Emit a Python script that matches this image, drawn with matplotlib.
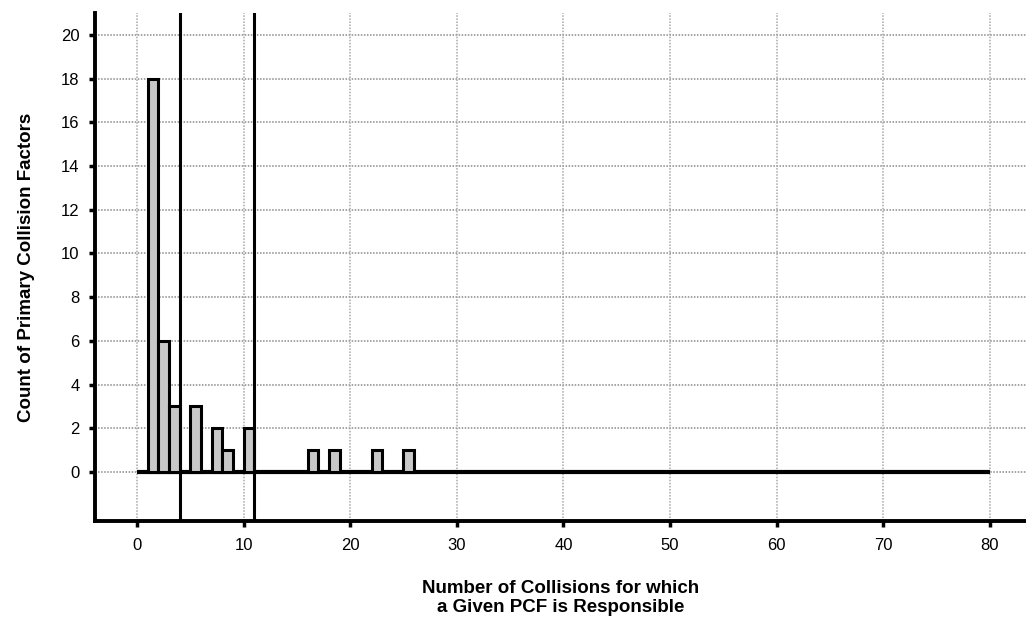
import matplotlib
matplotlib.use("Agg")
import matplotlib.pyplot as plt

# Histogram of how many collisions each primary collision factor (PCF) accounts for
bin_left = [1, 2, 3, 5, 7, 8, 10, 16, 18, 22, 25]
counts = [18, 6, 3, 3, 2, 1, 2, 1, 1, 1, 1]
bin_width = 1
marker_lines = [4, 11]
x_ticks = [0, 10, 20, 30, 40, 50, 60, 70, 80]
y_ticks = [0, 2, 4, 6, 8, 10, 12, 14, 16, 18, 20]
x_label = "Number of Collisions for which\na Given PCF is Responsible"
y_label = "Count of Primary Collision Factors"

plt.rcParams["font.family"] = ["Liberation Sans", "DejaVu Sans"]

fig = plt.figure(figsize=(10.26, 6.2), dpi=100)
ax = fig.add_axes([0.0926, 0.1597, 0.9074, 0.8194])

ax.set_xlim(-3.94, 83.4)
ax.set_ylim(-2.24, 21.0)

# dotted grey grid
for y in y_ticks:
    ax.axhline(y, color="#8a8a8a", lw=1.1, ls=(0, (1, 1)), zorder=1)
for x in x_ticks:
    ax.axvline(x, color="#a8a8a8", lw=1.1, ls=(0, (1, 1)), zorder=1)

# baseline along the data range
ax.plot([x_ticks[0], x_ticks[-1]], [0, 0], color="black", lw=3, zorder=3,
        solid_capstyle="butt")

ax.bar(bin_left, counts, width=bin_width, align="edge", facecolor="#c8c8c8",
       edgecolor="black", linewidth=2.2, zorder=4)

for x in marker_lines:
    ax.axvline(x, color="black", lw=2.2, zorder=5)

ax.set_xticks(x_ticks)
ax.set_yticks(y_ticks)
ax.tick_params(axis="both", direction="out", length=4, width=2.5,
               labelsize=12, color="black")
ax.tick_params(axis="x", pad=8)
ax.tick_params(axis="y", pad=7)

for side in ("top", "right"):
    ax.spines[side].set_visible(False)
for side in ("left", "bottom"):
    ax.spines[side].set_linewidth(2.8)

ax.set_xlabel(x_label, fontsize=13.5, fontweight="bold", labelpad=20,
              linespacing=1.1)
ax.set_ylabel(y_label, fontsize=13.5, fontweight="bold", labelpad=19)

fig.savefig("out.png", dpi=100)
